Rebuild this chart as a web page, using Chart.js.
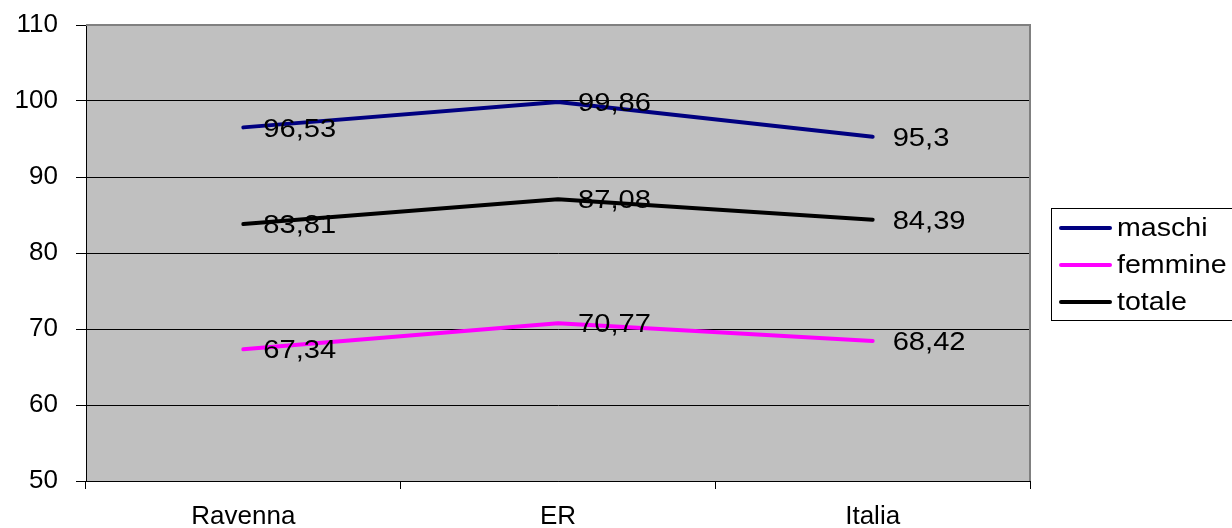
<!DOCTYPE html>
<html>
<head>
<meta charset="utf-8">
<script src="https://cdn.jsdelivr.net/npm/chart.js@4/dist/chart.umd.min.js"></script>
<style>
  html, body { margin: 0; padding: 0; background: #ffffff; }
  #wrap { width: 1232px; height: 528px; }
</style>
</head>
<body>
<div id="wrap"><canvas id="c" width="1232" height="528"></canvas></div>
<script>
// Categories and series
const categories = ['Ravenna', 'ER', 'Italia'];
const maschi = [96.53, 99.86, 95.3];
const femmine = [67.34, 70.77, 68.42];
const totale = [83.81, 87.08, 84.39];
const seriesNames = ['maschi', 'femmine', 'totale'];
const seriesColors = ['#000080', '#FF00FF', '#000000'];

const FONT = '"Liberation Sans", Arial, sans-serif';

// Draw text slightly widened horizontally
function wideText(ctx, txt, x, y, sx) {
  ctx.save();
  ctx.translate(x, y);
  ctx.scale(sx, 1);
  ctx.fillText(txt, 0, 0);
  ctx.restore();
}

// Grey plot background with a grey frame on top and right
const plotFrame = {
  id: 'plotFrame',
  beforeDraw(chart) {
    const { ctx, chartArea: a } = chart;
    ctx.save();
    ctx.fillStyle = '#C0C0C0';
    ctx.fillRect(a.left, a.top, a.right - a.left, a.bottom - a.top);
    ctx.restore();
  },
  beforeDatasetsDraw(chart) {
    const { ctx, chartArea: a } = chart;
    ctx.save();
    ctx.strokeStyle = '#808080';
    ctx.lineWidth = 2;
    ctx.beginPath();
    ctx.moveTo(a.left, a.top);
    ctx.lineTo(a.right, a.top);
    ctx.lineTo(a.right, a.bottom);
    ctx.stroke();
    ctx.restore();
  }
};

// Value labels beside each point, with a decimal comma
const valueLabels = {
  id: 'valueLabels',
  afterDatasetsDraw(chart) {
    const { ctx } = chart;
    ctx.save();
    ctx.font = '26px ' + FONT;
    ctx.fillStyle = '#000000';
    ctx.textAlign = 'left';
    ctx.textBaseline = 'middle';
    chart.data.datasets.forEach((ds, i) => {
      const meta = chart.getDatasetMeta(i);
      meta.data.forEach((pt, j) => {
        const txt = String(ds.data[j]).replace('.', ',');
        wideText(ctx, txt, pt.x + 20, pt.y + 2, 1.12);
      });
    });
    ctx.restore();
  }
};

// Boxed legend on the right
const boxLegend = {
  id: 'boxLegend',
  afterDraw(chart) {
    const { ctx } = chart;
    const left = 1051, top = 208, bottom = 320, right = 1240;
    ctx.save();
    ctx.fillStyle = '#ffffff';
    ctx.fillRect(left, top, right - left, bottom - top);
    ctx.strokeStyle = '#000000';
    ctx.lineWidth = 1;
    ctx.strokeRect(left + 0.5, top + 0.5, right - left, bottom - top);
    ctx.font = '26px ' + FONT;
    ctx.textAlign = 'left';
    ctx.textBaseline = 'middle';
    chart.data.datasets.forEach((ds, i) => {
      const y = 228 + i * 37;
      ctx.strokeStyle = ds.borderColor;
      ctx.lineWidth = 4;
      ctx.lineCap = 'round';
      ctx.beginPath();
      ctx.moveTo(1061, y);
      ctx.lineTo(1110, y);
      ctx.stroke();
      ctx.fillStyle = '#000000';
      wideText(ctx, ds.label, 1117, y + 1, 1.1);
    });
    ctx.restore();
  }
};

const seriesData = [maschi, femmine, totale];

new Chart(document.getElementById('c'), {
  type: 'line',
  data: {
    labels: categories,
    datasets: seriesNames.map((name, i) => ({
      label: name,
      data: seriesData[i],
      borderColor: seriesColors[i],
      backgroundColor: seriesColors[i],
      borderWidth: 4,
      borderCapStyle: 'round',
      borderJoinStyle: 'round',
      pointRadius: 0,
      tension: 0,
      fill: false
    }))
  },
  options: {
    responsive: false,
    animation: false,
    devicePixelRatio: 1,
    layout: { padding: { top: 25, right: 202, left: 0, bottom: 0 } },
    plugins: {
      legend: { display: false },
      tooltip: { enabled: false }
    },
    scales: {
      x: {
        offset: true,
        afterFit(scale) {
          scale.height = 47;
          scale.paddingLeft = 0;
          scale.paddingRight = 0;
        },
        grid: {
          offset: true,
          drawOnChartArea: false,
          drawTicks: true,
          tickLength: 8,
          color: '#000000',
          lineWidth: 1
        },
        border: { display: true, color: '#000000', width: 1 },
        ticks: {
          color: '#000000',
          font: { family: FONT, size: 26 },
          padding: 12,
          maxRotation: 0
        }
      },
      y: {
        min: 50,
        max: 110,
        afterFit(scale) {
          scale.width = 86;
          scale.paddingTop = 0;
          scale.paddingBottom = 0;
        },
        grid: {
          color: '#000000',
          lineWidth: 1,
          tickLength: 10,
          drawTicks: true
        },
        border: { display: true, color: '#000000', width: 1 },
        ticks: {
          stepSize: 10,
          color: '#000000',
          font: { family: FONT, size: 26 },
          padding: 18
        }
      }
    }
  },
  plugins: [plotFrame, valueLabels, boxLegend]
});
</script>
</body>
</html>
